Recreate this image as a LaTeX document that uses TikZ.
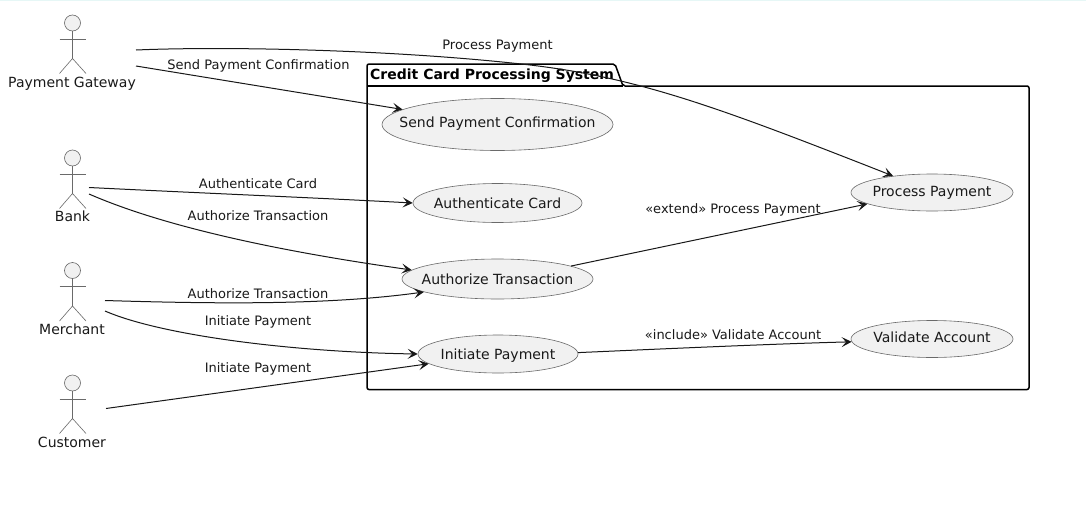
\documentclass[tikz,border=0pt]{standalone}
\usepackage{fontspec}
\setmainfont{DejaVu Sans}
\usetikzlibrary{arrows.meta,shapes.geometric}
\definecolor{ink}{HTML}{181818}
\definecolor{thin}{HTML}{6A6A6A}
\definecolor{soft}{HTML}{F1F1F1}
\definecolor{topline}{HTML}{E6F7F6}
\tikzset{
  x=1pt,y=-1pt,
  usecase/.style={shape=ellipse,draw=thin,fill=soft,line width=0.6pt,inner sep=0pt,font=\fontsize{14}{16}\selectfont,text=black!90},
  lbl/.style={inner sep=0pt,font=\fontsize{13}{15}\selectfont,text=black!90,text height=10pt,text depth=3pt},
  actorname/.style={inner sep=0pt,font=\fontsize{14}{16}\selectfont,text=black!90,text height=10.5pt,text depth=3pt},
  link/.style={draw=ink,line width=1pt,-{Stealth[length=10pt,width=10pt,inset=4.5pt]}},
  stick/.style={draw=thin,line width=0.6pt},
  head/.style={shape=circle,draw=thin,fill=soft,line width=0.6pt,minimum size=16pt,inner sep=0pt},
  pack/.style={draw=black,line width=1.5pt,line join=round},
}
\newcommand{\uc}[2]{\makebox[0pt]{\smash{\raisebox{#1pt}{#2}}}}
\begin{document}
\begin{tikzpicture}
\useasboundingbox (0,0) rectangle (1086,514);
\fill[white] (0,0) rectangle (1086,514);
\fill[topline] (0,0) rectangle (1086,1);

% package
\draw[pack,rounded corners=2pt] (367,86) -- (367,64) -- (615,64) -- (623,86) -- (1029,86) -- (1029,389.5) -- (367,389.5) -- cycle;
\draw[pack] (367,86) -- (623,86);
\node[inner sep=0pt,anchor=west,font=\bfseries\fontsize{14}{16}\selectfont,text height=10.5pt,text depth=3pt] (title) at (370,75.5) {Credit Card Processing System};

% use cases
\node[usecase,minimum width=231pt,minimum height=52pt] (send) at (497.5,124.5) {\uc{-2.5}{Send Payment Confirmation}};
\node[usecase,minimum width=169pt,minimum height=39pt] (auth) at (497.5,203) {\uc{-5}{Authenticate Card}};
\node[usecase,minimum width=191pt,minimum height=40pt] (authz) at (497.5,279) {\uc{-5}{Authorize Transaction}};
\node[usecase,minimum width=160pt,minimum height=38pt] (init) at (498,354) {\uc{-5}{Initiate Payment}};
\node[usecase,minimum width=162pt,minimum height=37pt] (proc) at (932,192.5) {\uc{-3.5}{Process Payment}};
\node[usecase,minimum width=162pt,minimum height=37pt] (valid) at (932,339) {\uc{-3.5}{Validate Account}};

% actors
\foreach \n/\y/\t/\ly/\sx in {pg/23/Payment Gateway/84/72,bank/158/Bank/218/72.5,merch/270.5/Merchant/331/72,cust/383/Customer/444/72}{
  \node[head] (\n) at (72.5,\y) {};
  \coordinate (\n hip) at (72.5,\y+35.5);
  \coordinate (\n la) at (59.5,\y+16);
  \coordinate (\n ra) at (86,\y+16);
  \coordinate (\n ll) at (59.5,\y+50.5);
  \coordinate (\n rl) at (86,\y+50.5);
  \draw[stick] (\n.south) -- (\n hip);
  \draw[stick] (\n la) -- (\n ra);
  \draw[stick] (\n ll) -- (\n hip) -- (\n rl);
  \node[actorname] (\n name) at (\sx,\ly) {\t};
}

% free ends
\coordinate (pgA) at (136,50);
\coordinate (pgB) at (136,66);
\coordinate (bankA) at (89,187.5);
\coordinate (bankB) at (89,194);
\coordinate (merchA) at (105,300.5);
\coordinate (merchB) at (105,311);
\coordinate (custA) at (106,408.5);
\coordinate (pgbend) at (530,65);

% connectors
\draw[link] (pgA) .. controls (230,46) and (400,50) .. (pgbend) .. controls (640,78) and (720,108) .. (proc.157.6);
\draw[link] (pgB) -- (send.171.5);
\draw[link] (bankA) .. controls (200,193) and (320,198) .. (auth.west);
\draw[link] (bankB) .. controls (160,225) and (270,250) .. (authz.174.4);
\draw[link] (merchA) .. controls (220,304) and (330,305) .. (authz.190.2);
\draw[link] (merchB) .. controls (160,335) and (290,352) .. (init.180);
\draw[link] (custA) -- (init.188.1);
\draw[link] (authz.10.4) -- (proc.190.7);
\draw[link] (init.1.5) .. controls (660,349) and (770,344) .. (valid.182);

% labels
\node[lbl] (l1) at (497.5,45.5) {Process Payment};
\node[lbl] (l2) at (258.5,65.5) {Send Payment Confirmation};
\node[lbl] (l3) at (258,184.5) {Authenticate Card};
\node[lbl] (l4) at (258,216.5) {Authorize Transaction};
\node[lbl] (l5) at (258,294.5) {Authorize Transaction};
\node[lbl] (l6) at (258,321.5) {Initiate Payment};
\node[lbl] (l7) at (258,368.5) {Initiate Payment};
\node[lbl] (l8) at (733,209.5) {«extend» Process Payment};
\node[lbl] (l9) at (733,335.5) {«include» Validate Account};
\end{tikzpicture}
\end{document}
